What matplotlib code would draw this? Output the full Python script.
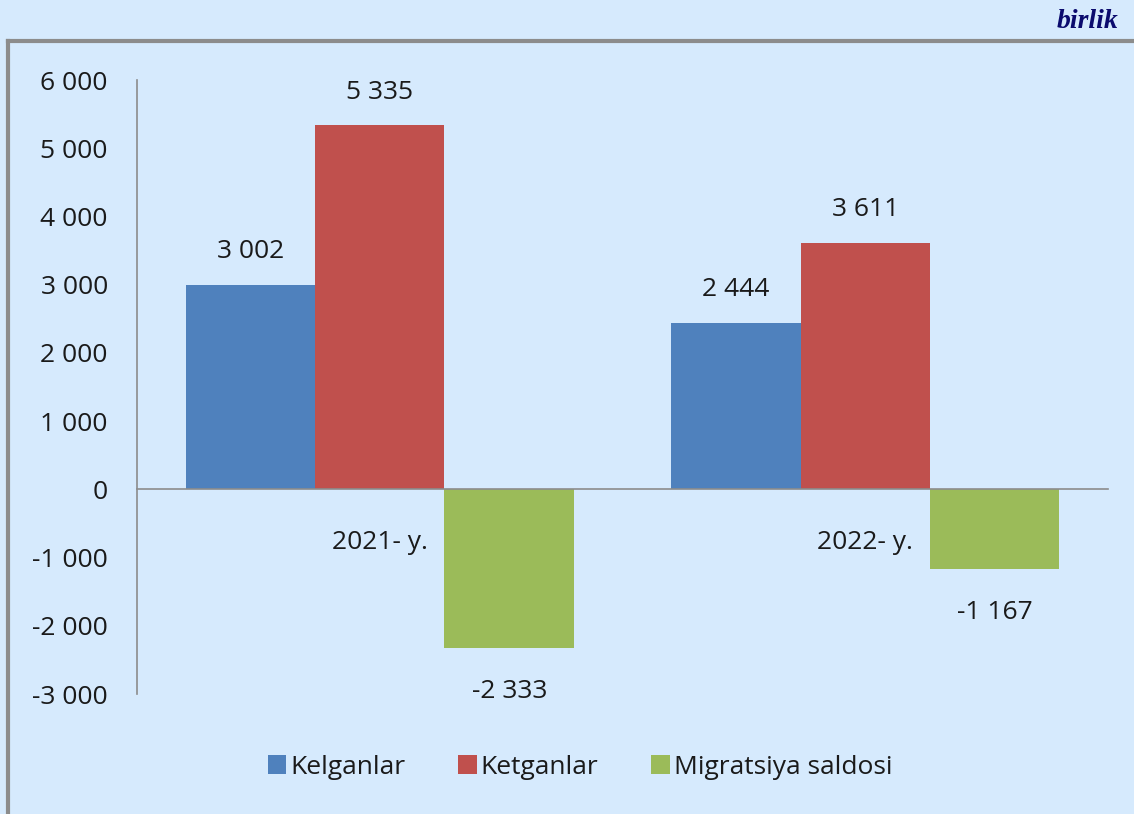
import matplotlib
matplotlib.use("Agg")
import matplotlib.pyplot as plt
from matplotlib.lines import Line2D
import numpy as np

categories = ["2021- y.", "2022- y."]
series_names = ["Kelganlar", "Ketganlar", "Migratsiya saldosi"]
kelganlar = [3002, 2444]
ketganlar = [5335, 3611]
saldo = [-2333, -1167]
yticks = [-3000, -2000, -1000, 0, 1000, 2000, 3000, 4000, 5000, 6000]

colors = ["#4F81BD", "#C0504D", "#9BBB59"]
bg = "#D6EAFD"
W, H = 1134, 814

plt.rcParams['font.family'] = ['Open Sans', 'DejaVu Sans']

def fmt(v):
    s = f"{abs(v):,}".replace(",", " ")
    return ("-" if v < 0 else "") + s

fig = plt.figure(figsize=(W/100, H/100), dpi=100, facecolor=bg)
ax = fig.add_axes([137/W, 1-694/H, (1108-137)/W, (694-80)/H])
ax.set_facecolor(bg)

x = np.arange(len(categories))
bw = 0.2667
data = [kelganlar, ketganlar, saldo]
for i, (vals, c, name) in enumerate(zip(data, colors, series_names)):
    pos = x + (i-1)*bw
    ax.bar(pos, vals, bw, color=c, label=name)
    for p, v in zip(pos, vals):
        if v >= 0:
            ax.annotate(fmt(v), (p, v), xytext=(0, 15), textcoords="offset points",
                        ha="center", va="bottom", fontsize=19, color="#1a1a1a")
        else:
            ax.annotate(fmt(v), (p, v), xytext=(0, -22), textcoords="offset points",
                        ha="center", va="top", fontsize=19, color="#1a1a1a")

# category labels just below the zero line
for xi, lab in zip(x, categories):
    ax.annotate(lab, (xi, 0), xytext=(0, -29), textcoords="offset points",
                ha="center", va="top", fontsize=19, color="#1a1a1a")

ax.set_xlim(-0.5, 1.5)
ax.set_ylim(-3000, 6000)
ax.set_yticks(yticks)
ax.set_yticklabels([fmt(v) for v in yticks], fontsize=19, color="#1a1a1a")
ax.tick_params(axis="y", length=0, pad=21)
ax.set_xticks([])

ax.spines["top"].set_visible(False)
ax.spines["right"].set_visible(False)
ax.spines["bottom"].set_position(("data", 0))
ax.spines["bottom"].set_color("#8c8c8c")
ax.spines["left"].set_color("#8c8c8c")
ax.spines["bottom"].set_linewidth(1.2)
ax.spines["left"].set_linewidth(1.2)

leg = fig.legend(loc="center", bbox_to_anchor=(580/W, 1-767/H), ncol=3, frameon=False,
                 fontsize=19, handlelength=0.7, handleheight=0.7, handletextpad=0.15,
                 columnspacing=2.0)
for t in leg.get_texts():
    t.set_color("#1a1a1a")

fig.add_artist(Line2D([8/W, 1], [1-41/H, 1-41/H], color="#8c8c8c", lw=3, transform=fig.transFigure))
fig.add_artist(Line2D([8/W, 8/W], [1-41/H, 0], color="#8c8c8c", lw=3, transform=fig.transFigure))

fig.text(1118/W, 1-22/H, "birlik", ha="right", va="center", fontsize=20,
         fontweight="bold", fontstyle="italic", family="Liberation Serif", color="#0B0B6E")

fig.savefig("out.png", dpi=100, facecolor=bg)
